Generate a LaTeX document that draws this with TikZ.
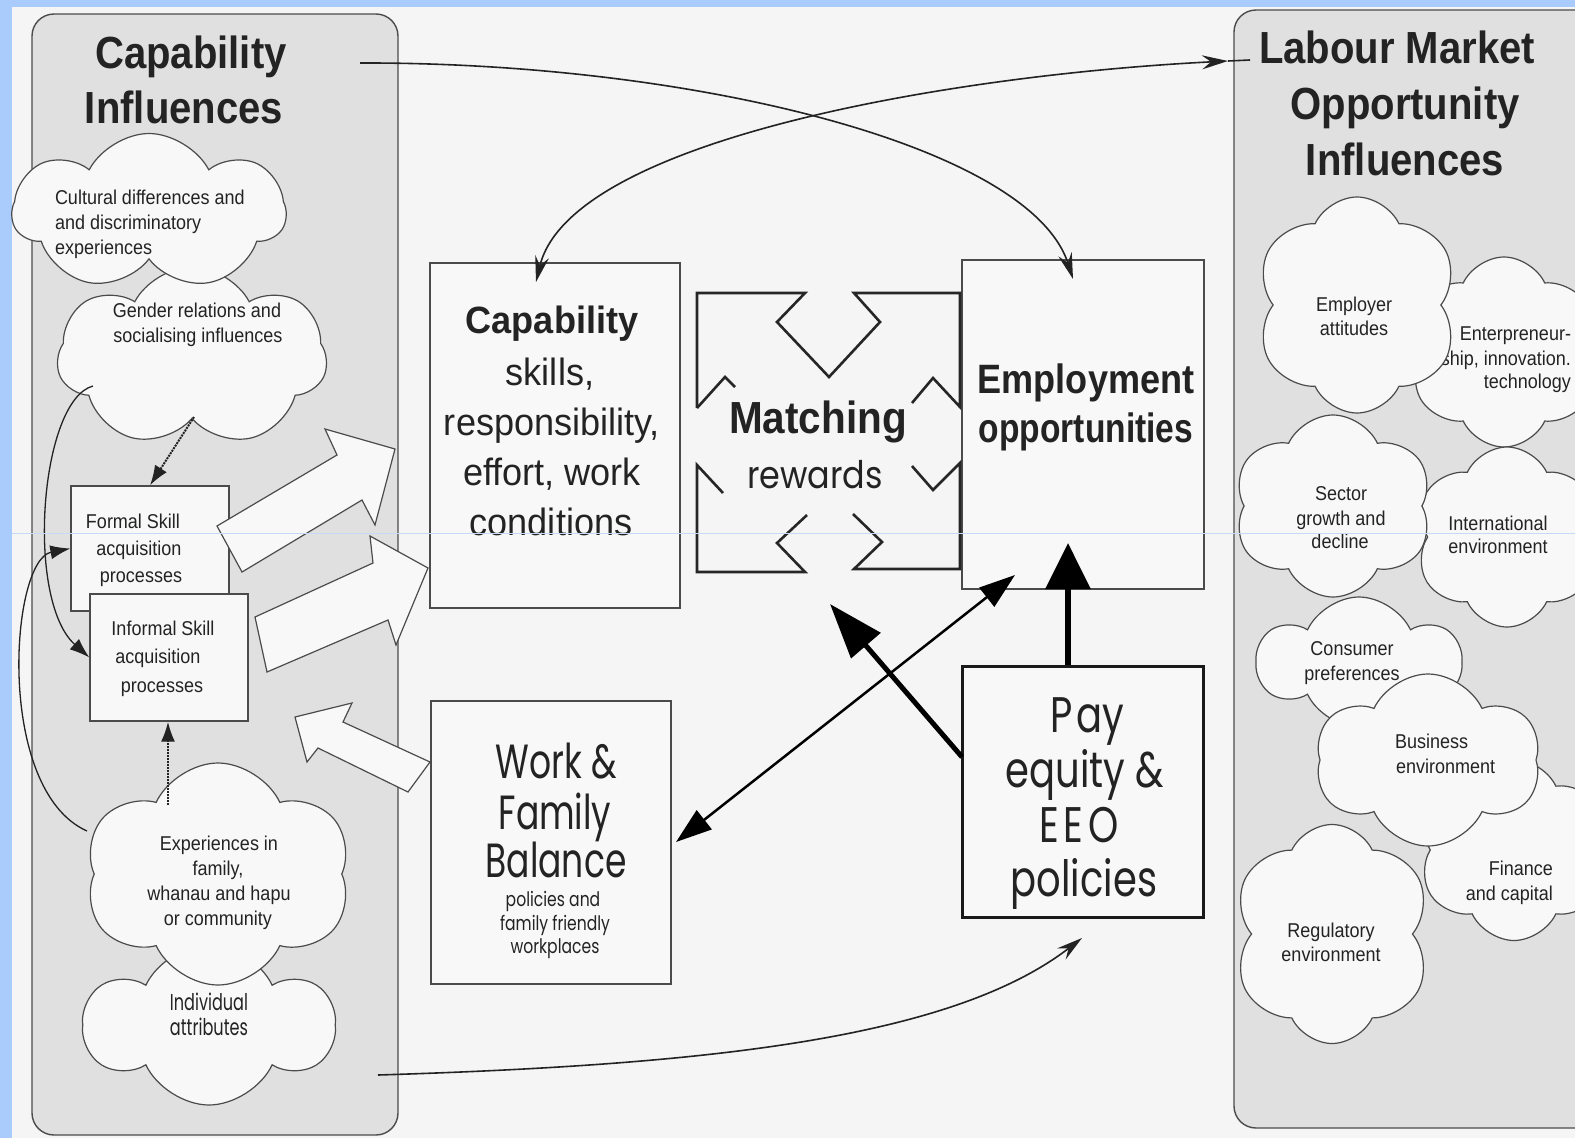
\documentclass[tikz,border=0pt]{standalone}
\usepackage{fontspec}
\setmainfont{Liberation Sans}
\newfontfamily\geo{Poppins}
\usetikzlibrary{shapes.symbols,arrows.meta}
\definecolor{bgblue}{RGB}{170,204,252}
\definecolor{paper}{RGB}{245,245,245}
\definecolor{panelgray}{RGB}{224,224,224}
\definecolor{boxfill}{RGB}{248,248,248}
\definecolor{ink}{RGB}{35,35,35}
\definecolor{edge}{RGB}{75,75,75}
\definecolor{scanline}{RGB}{196,218,248}
\tikzset{
  thintip/.tip={Stealth[length=26pt,width=14pt,inset=9pt]},
  smalltip/.tip={Latex[length=20pt,width=14pt]},
  midtip/.tip={Triangle[length=36pt,width=24pt]},
}
\begin{document}
\begin{tikzpicture}[x=1pt,y=-1pt,
  panelbox/.style={draw=edge,line width=1.4pt,fill=panelgray,rounded corners=22pt,inner sep=0},
  cbox/.style={draw=edge,line width=1.3pt,fill=boxfill,inner sep=0},
  cld/.style={cloud,cloud puffs=6,cloud puff arc=130,cloud ignores aspect,draw=edge,line width=1.2pt,fill=boxfill,inner sep=0},
  cldb/.style={cld,cloud puffs=7,cloud puff arc=125},
  txt/.style={anchor=base,inner sep=0,outer sep=0,text=ink},
  ttl/.style={txt,font=\fontsize{45}{55}\selectfont\bfseries,xscale=.89},
  sm/.style={txt,font=\fontsize{20}{25}\selectfont,xscale=.9},
  capb/.style={txt,font=\fontsize{38}{46}\selectfont\bfseries,xscale=.95},
  capr/.style={txt,font=\fontsize{38}{46}\selectfont,xscale=.95},
  empb/.style={txt,font=\fontsize{41}{50}\selectfont\bfseries,xscale=.88},
  geobig/.style={txt,font=\fontsize{48}{55}\selectfont\geo,xscale=.72},
  geopay/.style={txt,font=\fontsize{50}{55}\selectfont\geo,xscale=.77},
  geosm/.style={txt,font=\fontsize{20}{24}\selectfont\geo,xscale=.78},
  geoind/.style={txt,font=\fontsize{23}{25}\selectfont\geo,xscale=.7},
  conn/.style={draw=ink,line width=1.6pt},
  dots/.style={draw=ink,line width=2pt,densely dotted},
  blk/.style={draw=edge,line width=1.2pt,fill=boxfill,line join=miter},
  frame/.style={draw=black!85,line width=2.6pt,line join=miter},
]
\useasboundingbox (0,0) rectangle (1575,1138);
% background
\fill[bgblue] (0,0) rectangle (1575,1138);
\fill[paper] (12,7) rectangle (1575,1138);

% panels
\node[panelbox,minimum width=366pt,minimum height=1121pt] (lpanel) at (215,574.5) {};
\node[panelbox,minimum width=366pt,minimum height=1118pt] (rpanel) at (1417,569) {};

% titles
\node[ttl] (lt1) at (191,68) {Capability};
\node[ttl] (lt2) at (184,123) {Influences};
\node[ttl] (rt1) at (1397,63) {Labour Market};
\node[ttl] (rt2) at (1405,119) {Opportunity};
\node[ttl] (rt3) at (1405,175) {Influences};

% left clouds
\node[cldb,minimum width=270pt,minimum height=180pt,shape border rotate=0] (cGend) at (192,357) {};
\node[cldb,minimum width=273pt,minimum height=157pt] (cCult) at (149,212) {};
\node[sm,anchor=base west] (tc1) at (55,204) {Cultural differences and};
\node[sm,anchor=base west] (tc2) at (55,229) {and discriminatory};
\node[sm,anchor=base west] (tc3) at (55,254) {experiences};
\node[sm] (tg1) at (197,317) {Gender relations and};
\node[sm] (tg2) at (198,342) {socialising influences};

% skill boxes
\node[cbox,minimum width=158pt,minimum height=125pt] (formal) at (150,548.5) {};
\node[sm] (tf1) at (133,528) {Formal Skill};
\node[sm] (tf2) at (139,555) {acquisition};
\node[sm] (tf3) at (141,582) {processes};
\node[cbox,minimum width=158pt,minimum height=127pt] (informal) at (169,657.5) {};
\node[sm] (ti1) at (163,635) {Informal Skill};
\node[sm] (ti2) at (158,663) {acquisition};
\node[sm] (ti3) at (162,692) {processes};

% lower left clouds
\node[cld,minimum width=248pt,minimum height=160pt,shape border rotate=10] (cIndi) at (209,1025) {};
\node[geoind] (tn1) at (209,1010) {Individual};
\node[geoind] (tn2) at (209,1035) {attributes};
\node[cld,minimum width=267pt,minimum height=222pt,shape border rotate=30] (cExp) at (218,874) {};
\node[sm] (te1) at (219,850) {Experiences in};
\node[sm] (te2) at (218,875) {family,};
\node[sm] (te3) at (219,900) {whanau and hapu};
\node[sm] (te4) at (218,925) {or community};

% thin curved arrows on the left
\coordinate (ga) at (93,386);
\coordinate (eb) at (87,831);
\draw[conn,line width=1.3pt,-smalltip] (ga) .. controls (40,400) and (25,600) .. (informal.west);
\draw[conn,line width=1.3pt,-smalltip] (eb) .. controls (-5,790) and (10,560) .. (formal.west);
\coordinate (dg) at (194,417);
\coordinate (de) at (168,805);
\draw[dots,-smalltip] (dg) -- (formal.north);
\draw[dots,-smalltip] (de) -- (informal.south -| de);

% block arrows
\draw[blk] (217,526) -- (337,455) -- (325,429) -- (395,449) -- (375,525) -- (362,500) -- (242,572) -- cycle;
\draw[blk] (255,617) -- (373,563) -- (370,536) -- (428,568) -- (396,645) -- (388,620) -- (267,672) -- cycle;
\draw[blk] (295,717) -- (352,703) -- (343,722) -- (430,762) -- (408,792) -- (318,748) -- (307,762) -- cycle;

% middle boxes
\node[cbox,minimum width=250pt,minimum height=345pt] (capbox) at (555,435.5) {};
\node[capb] (tk1) at (552,333) {Capability};
\node[capr] (tk2) at (550,385) {skills,};
\node[capr] (tk3) at (552,435) {responsibility,};
\node[capr] (tk4) at (552,485) {effort, work};
\node[capr] (tk5) at (551,535) {conditions};

\node[cbox,minimum width=242pt,minimum height=329pt] (empbox) at (1083,424.5) {};
\node[empb] (tm1) at (1086,393) {Employment};
\node[empb,xscale=.93] (tm2) at (1086,442) {opportunities};

\node[cbox,minimum width=240pt,minimum height=283pt] (workbox) at (551,842.5) {};
\node[geobig] (tw1) at (556,778) {Work \&};
\node[geobig] (tw2) at (555,829) {Family};
\node[geobig] (tw3) at (556,877) {Balance};
\node[geosm] (tw4) at (553,906) {policies and};
\node[geosm] (tw5) at (555,930) {family friendly};
\node[geosm] (tw6) at (555,953) {workplaces};

\node[cbox,draw=black!90,line width=3pt,minimum width=241pt,minimum height=251pt] (paybox) at (1082.5,791.5) {};
\node[geopay] (tp1) at (1087,732) {P\hspace{5pt}ay};
\node[geopay] (tp2) at (1085,787) {equity \&};
\node[geopay] (tp3) at (1079,842) {E\hspace{6pt}E\hspace{6pt}O};
\node[geopay] (tp4) at (1084,896) {policies};

% matching rewards frame
\draw[frame] (697,408) -- (697,293) -- (805,293) -- (777,322) -- (829,377) -- (880,322) -- (854,293) -- (960,293) -- (960,407) -- (933,378) -- (912,403);
\draw[frame] (697,408) -- (725,377) -- (735,387);
\draw[frame] (807,515) -- (777,543) -- (805,572) -- (697,572) -- (697,465) -- (723,493);
\draw[frame] (853,514) -- (882,542) -- (854,569) -- (960,569) -- (960,463) -- (933,490) -- (912,466);
\node[txt,font=\fontsize{45}{50}\selectfont\bfseries,xscale=.9] (tr1) at (818,433) {Matching};
\node[txt,font=\fontsize{38}{45}\selectfont\geo,xscale=.88] (tr2) at (815,488) {rewards};

% right clouds
\node[cld,minimum width=192pt,minimum height=190pt,shape border rotate=15] (cEnt) at (1504,352) {};
\node[sm,anchor=base east] (tn1e) at (1571,340) {Enterpreneur-};
\node[sm,anchor=base east] (tn2e) at (1571,365) {ship, innovation.};
\node[sm,anchor=base east] (tn3e) at (1571,388) {technology};
\node[cld,minimum width=205pt,minimum height=216pt,shape border rotate=40] (cEmp) at (1357,305) {};
\node[sm] (ty1) at (1354,311) {Employer};
\node[sm] (ty2) at (1354,335) {attitudes};
\node[cld,minimum width=185pt,minimum height=180pt,shape border rotate=5] (cInt) at (1507,537) {};
\node[sm] (tx1) at (1498,530) {International};
\node[sm] (tx2) at (1498,553) {environment};
\node[cld,minimum width=202pt,minimum height=130pt,shape border rotate=25] (cCon) at (1359,662) {};
\node[cld,minimum width=200pt,minimum height=182pt,shape border rotate=35] (cSec) at (1333,506) {};
\node[sm] (ts1) at (1341,500) {Sector};
\node[sm] (ts2) at (1341,525) {growth and};
\node[sm] (ts3) at (1340,548) {decline};
\node[cld,minimum width=192pt,minimum height=181pt,shape border rotate=12] (cFin) at (1514,850) {};
\node[sm,anchor=base east] (tq1) at (1553,875) {Finance};
\node[sm,anchor=base east] (tq2) at (1553,900) {and capital};
\node[cld,minimum width=225pt,minimum height=172pt,shape border rotate=20] (cBus) at (1428,760) {};
\node[sm,anchor=base west] (tb1) at (1395,748) {Business};
\node[sm,anchor=base west] (tb2) at (1396,773) {environment};
\node[sm] (to1) at (1352,655) {Consumer};
\node[sm] (to2) at (1352,680) {preferences};
\node[cld,minimum width=201pt,minimum height=219pt,shape border rotate=45] (cReg) at (1332,934) {};
\node[sm] (tr3) at (1331,937) {Regulatory};
\node[sm] (tr4) at (1331,961) {environment};

% long curved connectors
\coordinate (pa) at (360,63);
\coordinate (pb) at (1073,279);
\draw[conn,-thintip] (pa) .. controls (690,62) and (1030,145) .. (pb);
\coordinate (qa) at (1228,61);
\coordinate (qc) at (1250,60);
\coordinate (qb) at (536,282);
\draw[conn,thintip-thintip] (qb) .. controls (570,140) and (950,75) .. (qa);
\draw[conn] (qa) -- (qc);
\coordinate (ra) at (378,1075);
\coordinate (rb) at (1082,938);
\draw[conn,-thintip] (ra) .. controls (700,1065) and (950,1040) .. (rb);

% bold arrows from pay box
\coordinate (et) at (1068,543);
\draw[draw=black,line width=6pt,-{Triangle[length=46pt,width=44pt]}] (paybox.north -| et) -- (et);
\coordinate (ms) at (962,757);
\coordinate (mt) at (830,604);
\draw[draw=black,line width=5pt,-{Triangle[length=55pt,width=38pt]}] (ms) -- (mt);
\coordinate (dw) at (676,842);
\coordinate (dn) at (1015,575);
\draw[draw=black,line width=2.5pt,midtip-midtip] (dw) -- (dn);

% faint scan line
\draw[scanline,line width=0.8pt] (12,533) -- (1575,533);
\end{tikzpicture}
\end{document}
